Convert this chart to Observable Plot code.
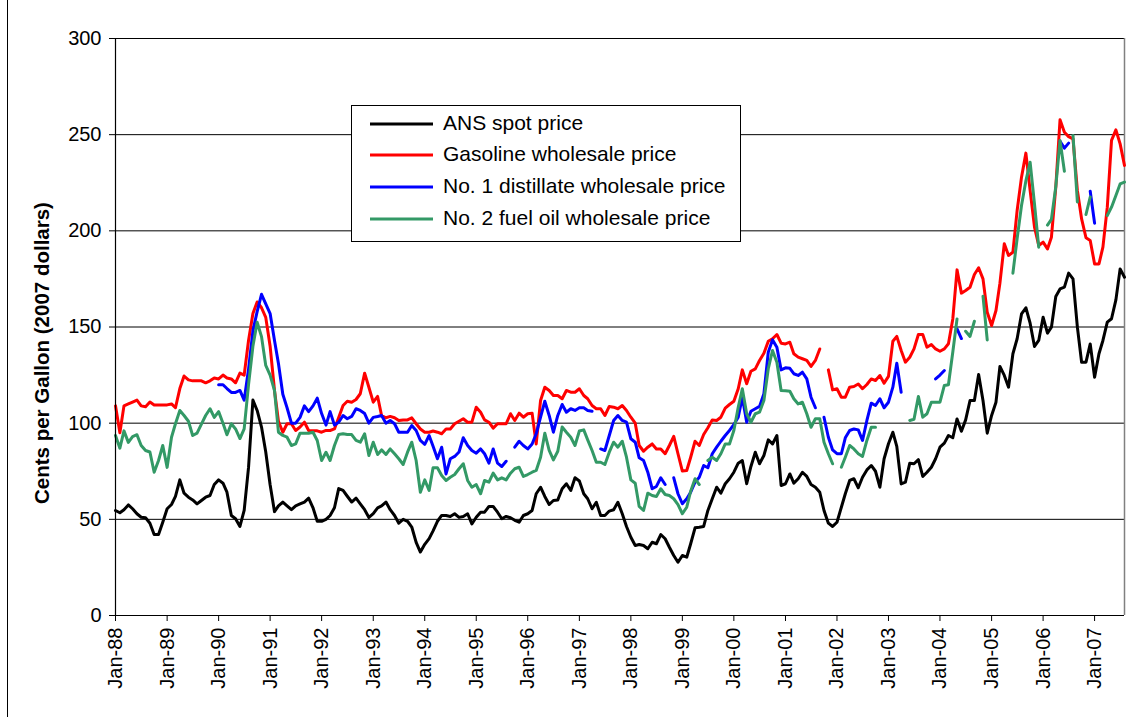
<!DOCTYPE html>
<html><head><meta charset="utf-8">
<script src="https://cdn.jsdelivr.net/npm/d3@7"></script>
<script src="https://cdn.jsdelivr.net/npm/@observablehq/plot@0.6"></script>
<style>
body{margin:0;background:#fff;}
#wrap{position:relative;width:1135px;height:717px;font-family:"Liberation Sans",Arial,sans-serif;overflow:hidden;}
#border{position:absolute;left:7px;top:0;width:1px;height:717px;background:#000;}
#legend{position:absolute;left:351px;top:105px;width:388px;height:135px;border:1px solid #000;background:#fff;}
.row{position:absolute;left:0;height:30px;width:388px;}
.row svg{position:absolute;left:18px;top:0;}
.row span{position:absolute;left:91px;top:2px;font-size:21px;line-height:24px;color:#000;white-space:nowrap;}
</style></head><body><div id="wrap"><div id="border"></div></div>
<script>
// Monthly series, Jan-88 .. Aug-07 (cents per gallon, 2007 dollars)
const ans = [
54.6,53.4,55,57.5,55.5,52.9,51.1,50.8,48,42.1,42.1,48.5,
55.5,57.7,61.9,70.5,63.6,61.5,60.1,58,59.8,61.5,62.4,68.1,
70.5,68.8,64.1,52,50.3,46.3,54.6,77,112,106.6,98,85,
68,54,57,59,57,55,57,58,59,61,56,49,
49,50,52,56,66,65,62,59,61,58,55,51,
53,56,57,59,55,52,48,50,49,46,38,33,
37,40,44,49,52,52,51.5,52.9,51,51.5,52.9,47.6,
51.1,53.7,53.7,56.7,56.7,53.7,50.3,51.5,50.8,49.5,48.5,52,
52.9,54.6,63.3,66.7,61.9,57.7,59.8,60.1,65.9,68.5,65,71.6,
69.9,63.3,60.7,55.5,58.9,52,52,54.3,55,58.9,52.9,46.3,
40.7,36.4,36.9,36.4,34.7,38.1,37.3,42.1,39.9,35.5,31.2,27.7,
31.2,30.3,37.3,45.6,45.9,46.3,54.6,60.7,66.7,63.6,68.5,71.1,
74.5,79.2,80.6,68.5,77.5,84.9,78.9,83.2,91.3,89.2,93.6,67.6,
68.5,73.6,68.8,71.1,74.5,72.3,68.1,66.7,64.1,54.6,48,46.3,
48.5,56.3,63.3,70.2,71.1,66.4,71.9,75.7,78,75,66.7,81.5,
89.3,95.3,87.9,68.4,69.3,79.2,78.9,81,72.3,74.5,77.1,81.5,
87.5,89.6,93.6,92.4,102.2,95.8,101.7,111.8,111.8,125.3,111.8,94.8,
104,110.9,129.5,124.8,118.7,136.1,143.9,156.8,160,152,139.9,143,
155.1,146.8,149.9,165.9,169.8,170.7,178,175,149.9,131.7,131.7,141.2,
123.9,136.1,143,152.5,154.3,164.1,180.2,175.9];
const gasoline = [
109,95,109,110,111,112,109,108.5,111,109.5,109.5,109.5,
109.5,110,108,118,124.5,122.5,122,122,122,121,122,123.5,
123,125,123.5,123,121,126,125,143,157,163,160,155,
140,117,101,95.3,99.7,99.7,96.2,98,100.5,96.2,96,96,
95.3,96.2,96.2,97,103,109.2,111.4,110.9,112.3,115.3,126,118.7,
110.9,113.9,104,102.8,103.5,102.8,101.4,101.7,101.7,102.8,99.7,97,
95.3,95.3,95.9,95.3,94.5,97,97,99.7,101,102.3,100.5,100.5,
108.3,105.7,101.7,100.5,97.4,99.7,99.7,99.7,104.9,101.4,105.2,103.1,
104.9,105.2,89.2,111.8,118.7,117,114.4,114.4,112.7,117,116.1,116.1,
117.9,114.4,112.7,109.2,107.5,107.5,104,108.7,108.3,107.5,109.2,106.6,
103.1,100,88.4,85.4,87.5,89.2,86.6,86.6,84.1,88.4,93.1,84.1,
75.1,75.4,82.3,90.6,88.4,94.1,97.6,101.7,101.4,103.1,107.8,109.7,
111.4,117.9,127.7,120.5,127,128.2,132.6,136.4,142.6,143.9,146.1,141.6,
141.2,142.1,136.1,134.3,133.5,132.6,129.5,132.6,138.6,null,127.7,117.3,
117.9,113.5,113.5,118.7,119.1,120.4,117.9,120.1,123,122.2,124.8,120.8,
124.3,142.6,145.1,137.8,131.7,134.3,138.6,146.1,146.1,139.5,140.9,138.6,
137.4,138.6,141.3,154.2,179.7,167.6,169,170.7,177.3,180.8,175,157.7,
150.8,158.6,172.8,193.3,187.2,188.9,210.6,227.9,240.4,221,201.9,192.4,
194.1,190.6,196.7,222.7,257.7,251.3,249,247.8,221,206.2,196.4,195,
182.8,182.8,191.5,212.3,247,252.5,245.2,234];
const distillate = [
null,null,null,null,null,null,null,null,null,null,null,null,
null,null,null,null,null,null,null,null,null,null,null,null,
120,120,118,116,116,117,112,128,148,158,167,162,
157,143,131,115,108,100,100,103,109,106,109,113,
105,99,106,99,100.5,104,102.3,103.5,107.5,106.6,105,100,
103,103.5,104,100,101.4,99.7,95.3,95.3,95.3,98.8,96.2,91,
89,93.6,88,81.5,87.5,73.6,81.5,82.7,85,92.4,88.4,85.8,
84.4,86.6,84.1,79.2,86.6,79.2,77.5,80.2,null,87.5,90.6,88.4,
86.6,89.2,94.5,103.1,111.4,104,95.3,104,109.7,105.7,107.5,106.6,
108,108,106.6,106.2,null,86.6,85.8,93.6,101.4,104,101.4,100.5,
91.9,90.1,82,80.6,74.5,65.9,67.1,71.6,68.1,null,71.6,63.3,
58.1,60.7,64.1,69.3,71.9,78,76.8,84.1,87.5,90.6,93.6,96.2,
99.3,103.1,113.5,100.5,106.2,107.5,108.7,115.3,136.9,143.3,139.5,127.7,
128.8,128.5,125.7,124.8,126.5,123,113.5,108,null,103.1,92.7,86.1,
84.1,84.1,92.4,96.2,97,96.5,91,101.4,110.4,109.2,112.7,108,
110.9,118.7,131.2,116.1,null,null,null,null,null,null,null,123,
125,127.4,null,null,149,144,null,null,null,null,null,null,
null,null,null,null,null,null,null,null,null,null,null,null,
null,null,null,null,246.5,243,245.6,null,null,null,null,220.6,
204,null,null,null,null,null,null,null];
const fuelOil = [
93.6,87,96,90,93,94,88.4,85.8,85,74.5,80.6,88.4,
77,92.7,99.7,106.6,104,101,93.6,94.8,99.5,104,107.5,103,
106,100,94,99.7,97,92,97,120,140,152.5,145,130,
125,117,95.3,93.6,92.7,88.4,89.2,94.8,94.8,94.8,95.3,91,
80.6,84.9,80.6,88.4,94.1,94.5,94.1,94.1,91,90.1,94.5,83.2,
90.1,83.7,86.1,83.7,86.6,84.1,81.5,78.5,84.9,90.1,80.6,64.1,
70.5,65,76.8,76.8,72.8,70.2,71.9,73.3,76.3,78.9,70.2,66.7,
68.1,63.3,70.2,69.3,74,70.5,71.6,70.5,74,76.3,77.1,72.3,
73.3,74.5,75.4,82.3,94.8,85.8,80.9,85.4,98,95.3,92.7,88.4,
95.9,96.5,91.3,85.8,79.7,79.7,78.5,84.9,90.1,87.5,90.6,82.3,
70.5,68.8,56.7,54.6,63.6,62.4,61.9,65.9,62.9,62.4,60.7,57.7,
52.9,56.3,64.6,71.1,68.1,null,80.6,82.3,80.6,84.1,89.2,89.2,
96.2,108.3,117.9,104.9,100.5,104.9,105.7,111.8,128.3,137.8,131.7,117,
116.8,116.6,112.7,110,110.9,104.9,97.9,102.3,102.3,90.1,84.1,78.9,
null,77.1,82.3,88.4,86.6,84.1,82.7,91,97.9,97.9,null,null,
null,null,null,null,null,101.4,102,113.9,103.1,104.9,110.9,110.9,
110.9,119.6,120,137,154.2,null,147.8,145.1,153,null,166,143.3,
null,null,null,null,null,178,196,213.2,226,235.7,214,191.5,
null,203,206,223,247,231,null,249.6,215,null,208.5,217.6,
null,null,null,208,212.3,218.4,224.4,225.3];

const seriesNames = ["ANS spot price","Gasoline wholesale price","No. 1 distillate wholesale price","No. 2 fuel oil wholesale price"];
const seriesColors = ["#000000","#ff0000","#0000ff","#339966"];
const yTicks = [0,50,100,150,200,250,300];
const yTitle = "Cents per Gallon (2007 dollars)";

const seriesValues = [ans, gasoline, distillate, fuelOil];
const months = d3.utcMonth.range(new Date(Date.UTC(1988,0,1)), new Date(Date.UTC(2007,8,1)));
const yearTicks = d3.utcYear.range(months[0], d3.utcMonth.offset(months[months.length-1],1));
const fmt = d3.utcFormat("%b-%y");

const tables = seriesValues.map((vals, k) => months.map((d, i) => ({date: d, value: vals[i] == null ? NaN : vals[i], series: seriesNames[k]})));

const chart = Plot.plot({
  width: 1135, height: 717,
  marginLeft: 115, marginRight: 11, marginTop: 38, marginBottom: 102,
  style: {fontFamily: "'Liberation Sans', Arial, sans-serif", fontSize: "20px", color: "#000", background: "transparent", overflow: "visible"},
  x: {type: "utc", domain: [months[0], months[months.length-1]]},
  y: {domain: [0, 300]},
  marks: [
    Plot.ruleY(yTicks.filter(d => d > 0), {stroke: "#000", strokeWidth: 1}),
    Plot.ruleX([months[months.length-1]], {stroke: "#808080", strokeWidth: 1.5}),
    ...tables.map((t, k) => Plot.line(t, {x: "date", y: "value", stroke: seriesColors[k], strokeWidth: 3, strokeLinejoin: "round"})),
    Plot.ruleY([0], {stroke: "#000", strokeWidth: 1.2}),
    Plot.ruleX([months[0]], {stroke: "#000", strokeWidth: 1.2}),
    Plot.axisY({ticks: yTicks, tickSize: 6, tickPadding: 8, fontSize: 20, label: null}),
    Plot.axisX({ticks: yearTicks, tickFormat: fmt, tickRotate: -90, tickSize: 6, tickPadding: 6, fontSize: 20, label: null}),
    Plot.text([yTitle], {frameAnchor: "left", dx: -73, dy: 26, rotate: -90, textAnchor: "middle", fontWeight: "bold", fontSize: 20.5, text: d => d})
  ]
});
const wrap = document.getElementById("wrap");
chart.style.position = "absolute"; chart.style.left = "0"; chart.style.top = "0";
wrap.appendChild(chart);

const legend = document.createElement("div");
legend.id = "legend";
const rowTops = [3, 34, 66, 98];
seriesNames.forEach((name, k) => {
  const row = document.createElement("div");
  row.className = "row";
  row.style.top = rowTops[k] + "px";
  row.innerHTML = `<svg width="64" height="30"><line x1="0" x2="63" y1="15" y2="15" stroke="${seriesColors[k]}" stroke-width="3"/></svg><span>${name}</span>`;
  legend.appendChild(row);
});
wrap.appendChild(legend);
</script>
</body></html>
